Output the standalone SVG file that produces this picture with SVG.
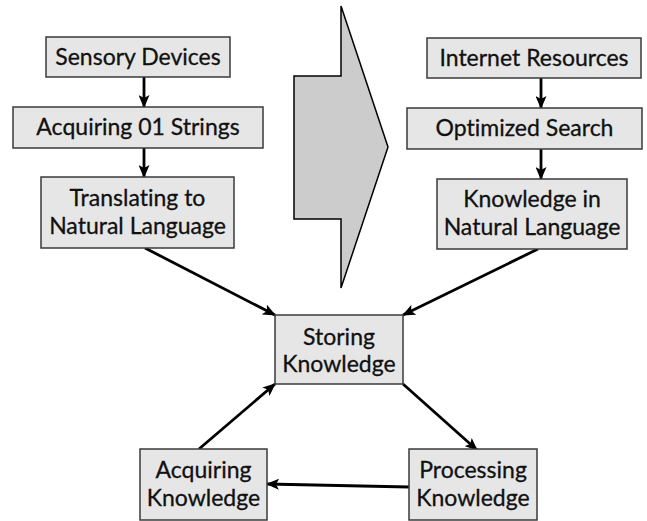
<svg xmlns="http://www.w3.org/2000/svg" width="647" height="521" viewBox="0 0 647 521">
<style>
.box{fill:#e6e6e6;stroke:#3a3a3a;stroke-width:1.5}
.t{font-family:Lato,"Open Sans","Liberation Sans",sans-serif;font-size:23px;fill:#111;text-anchor:middle;font-variant-ligatures:none;stroke:#111;stroke-width:0.3}
.c{stroke:#000;stroke-width:2.8;fill:none;marker-end:url(#ah)}
</style>
<defs>
<marker id="ah" viewBox="0 0 13 11" refX="12" refY="5.5" markerWidth="13" markerHeight="11" markerUnits="userSpaceOnUse" orient="auto">
<path d="M0,0 L13,5.5 L0,11 L3,5.5 z" fill="#000"/>
</marker>
</defs>
<rect width="647" height="521" fill="#fff"/>
<polygon points="341,6 388,147 341,288 341,219 294,219 294,76 341,76" fill="#cccccc" stroke="#000" stroke-width="1.5"/>
<g id="connectors">
<line class="c" x1="144" y1="77" x2="144" y2="107"/>
<line class="c" x1="144" y1="148" x2="144" y2="177"/>
<line class="c" x1="541" y1="78" x2="541" y2="108"/>
<line class="c" x1="541" y1="149" x2="541" y2="179"/>
<line class="c" x1="145" y1="248" x2="275" y2="315"/>
<line class="c" x1="538" y1="249" x2="403" y2="315"/>
<line class="c" x1="403" y1="384" x2="477" y2="450"/>
<line class="c" x1="409" y1="487" x2="267" y2="484"/>
<line class="c" x1="199" y1="449" x2="275" y2="384"/>
</g>
<g id="sensory"><rect class="box" x="46" y="37" width="184" height="40"/><text class="t" x="138" y="65">Sensory Devices</text></g>
<g id="acq01"><rect class="box" x="13" y="107" width="250" height="41"/><text class="t" x="138" y="135">Acquiring 01 Strings</text></g>
<g id="translating"><rect class="box" x="41" y="177" width="193" height="71"/><text class="t" x="137.5" y="206">Translating to</text><text class="t" x="137.5" y="234">Natural Language</text></g>
<g id="internet"><rect class="box" x="427" y="38" width="214" height="40"/><text class="t" x="534" y="66">Internet Resources</text></g>
<g id="optimized"><rect class="box" x="407" y="108" width="235" height="41"/><text class="t" x="524.5" y="136">Optimized Search</text></g>
<g id="knowledgeNL"><rect class="box" x="437" y="179" width="190" height="70"/><text class="t" x="532" y="207">Knowledge in</text><text class="t" x="532" y="235">Natural Language</text></g>
<g id="storing"><rect class="box" x="275" y="315" width="128" height="69"/><text class="t" x="339" y="345">Storing</text><text class="t" x="339" y="372">Knowledge</text></g>
<g id="acquiringK"><rect class="box" x="140" y="449" width="127" height="71"/><text class="t" x="203.5" y="478">Acquiring</text><text class="t" x="203.5" y="506">Knowledge</text></g>
<g id="processing"><rect class="box" x="409" y="449" width="128" height="71"/><text class="t" x="473" y="478">Processing</text><text class="t" x="473" y="506">Knowledge</text></g>
</svg>
